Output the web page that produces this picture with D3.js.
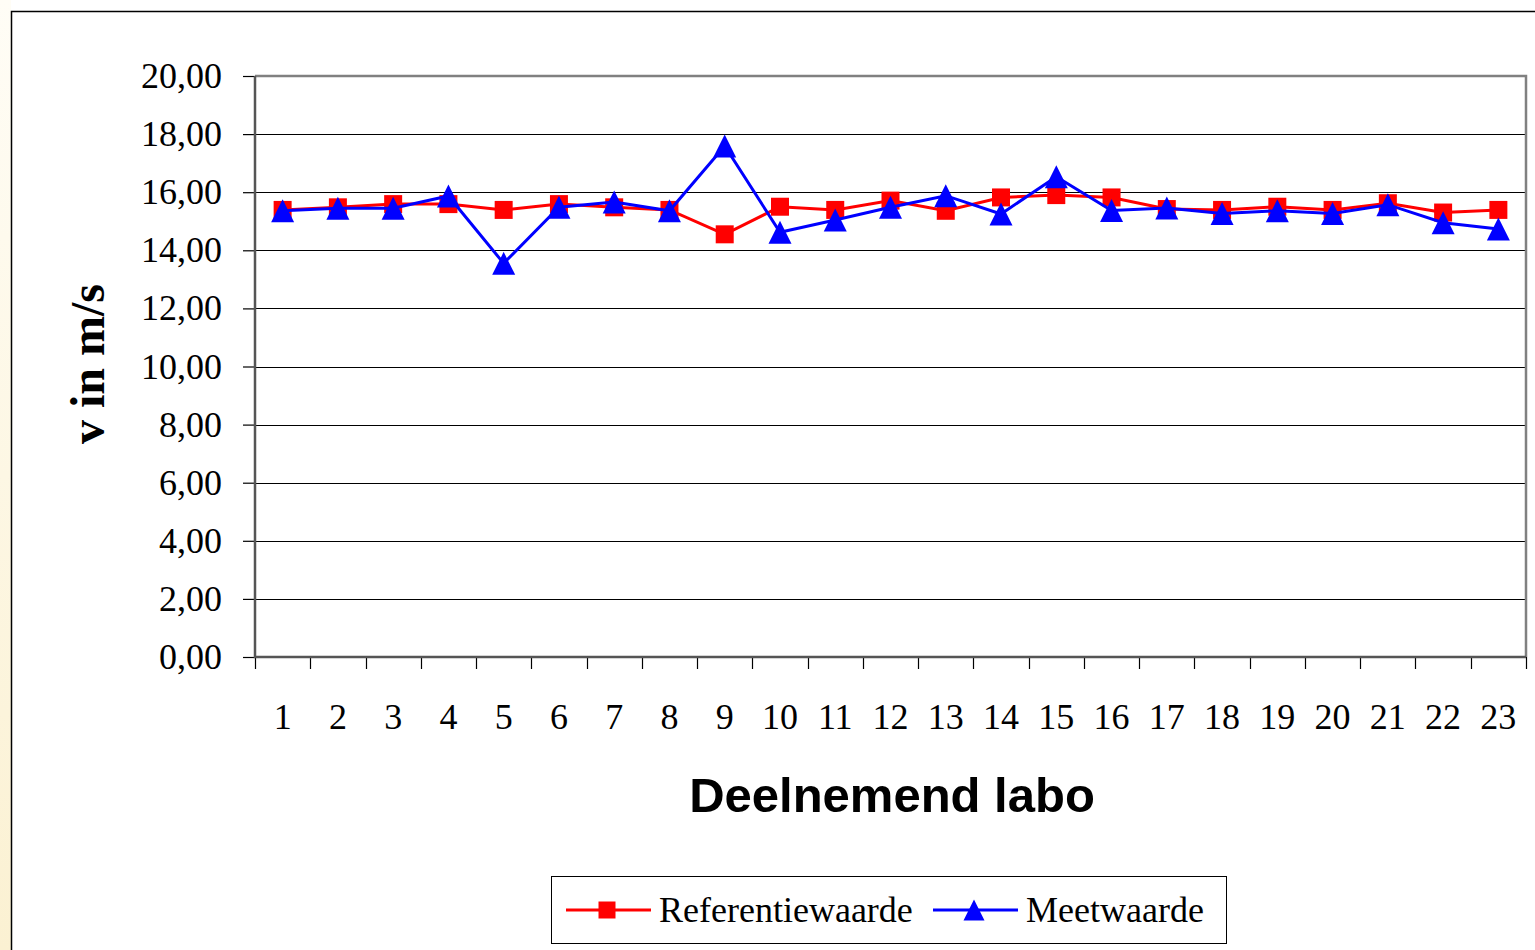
<!DOCTYPE html>
<html>
<head>
<meta charset="utf-8">
<script src="https://cdn.jsdelivr.net/npm/d3@7"></script>
<style>
  html, body { margin: 0; padding: 0; background: #fff; }
  svg { display: block; }
</style>
</head>
<body>
<script>
'use strict';

// Chart data
var labs = ['1', '2', '3', '4', '5', '6', '7', '8', '9', '10', '11', '12',
  '13', '14', '15', '16', '17', '18', '19', '20', '21', '22', '23'];
var referentiewaarde = [15.39, 15.48, 15.59, 15.59, 15.39, 15.59, 15.48, 15.39, 14.55, 15.50, 15.39, 15.71,
  15.36, 15.82, 15.90, 15.82, 15.42, 15.39, 15.50, 15.39, 15.62, 15.30, 15.39];
var meetwaarde = [15.36, 15.45, 15.45, 15.87, 13.55, 15.48, 15.66, 15.36, 17.59, 14.62, 15.04, 15.48,
  15.88, 15.25, 16.53, 15.37, 15.46, 15.27, 15.36, 15.27, 15.57, 14.95, 14.73];
var yTicks = [0, 2, 4, 6, 8, 10, 12, 14, 16, 18, 20];
var seriesNames = ['Referentiewaarde', 'Meetwaarde'];

var width = 1535, height = 950;
var plot = { left: 255, right: 1526, top: 76, bottom: 657 };
var serif = '"Liberation Serif", "Times New Roman", serif';
var sans = '"Liberation Sans", Arial, sans-serif';

var svg = d3.select('body').append('svg')
  .attr('width', width)
  .attr('height', height);

// Page background: faint cream strip at the left, then the chart frame
var grad = svg.append('defs').append('linearGradient')
  .attr('id', 'cream').attr('x1', 0).attr('y1', 0).attr('x2', 0).attr('y2', 1);
grad.append('stop').attr('offset', '0%').attr('stop-color', '#fffdf6');
grad.append('stop').attr('offset', '100%').attr('stop-color', '#fbf1d2');
svg.append('rect').attr('x', 0).attr('y', 0).attr('width', 11).attr('height', height)
  .attr('fill', 'url(#cream)');
svg.append('rect')
  .attr('x', 11.5).attr('y', 11.5)
  .attr('width', width + 20).attr('height', height + 20)
  .attr('fill', '#fff').attr('stroke', '#000').attr('stroke-width', 1.5);

// Scales
var x = d3.scaleBand().domain(labs).range([plot.left, plot.right]);
var y = d3.scaleLinear().domain([0, 20]).range([plot.bottom, plot.top]);
function cx(d, i) { return x(labs[i]) + x.bandwidth() / 2; }

// Gridlines
svg.append('g').selectAll('line').data(yTicks.slice(1, -1)).enter().append('line')
  .attr('x1', plot.left).attr('x2', plot.right)
  .attr('y1', function(d) { return Math.round(y(d)) + 0.5; })
  .attr('y2', function(d) { return Math.round(y(d)) + 0.5; })
  .attr('stroke', '#000').attr('stroke-width', 1);

// Plot frame (top and right gray)
svg.append('path')
  .attr('d', 'M' + plot.left + ',' + plot.top + 'H' + plot.right + 'V' + plot.bottom)
  .attr('fill', 'none').attr('stroke', '#808080').attr('stroke-width', 2.5);

// Y axis
var yAxis = d3.axisLeft(y)
  .tickValues(yTicks)
  .tickSize(12)
  .tickPadding(21)
  .tickFormat(function(d) { return d.toFixed(2).replace('.', ','); });
var gy = svg.append('g').attr('transform', 'translate(' + plot.left + ',0)').call(yAxis);
gy.select('.domain').remove();
gy.selectAll('.tick line').attr('stroke', '#000').attr('stroke-width', 1.2);
gy.selectAll('.tick text')
  .attr('font-family', serif).attr('font-size', 36).attr('fill', '#000');

// X axis labels
var xAxis = d3.axisBottom(x).tickSize(0).tickPadding(46);
var gx = svg.append('g').attr('transform', 'translate(0,' + plot.bottom + ')').call(xAxis);
gx.select('.domain').remove();
gx.selectAll('.tick text')
  .attr('font-family', serif).attr('font-size', 36).attr('fill', '#000');

// X ticks at category boundaries
var edges = labs.map(function(l) { return x(l); }).concat([x.range()[1]]);
svg.append('g').selectAll('line').data(edges).enter().append('line')
  .attr('x1', function(d) { return Math.round(d) + 0.5; })
  .attr('x2', function(d) { return Math.round(d) + 0.5; })
  .attr('y1', plot.bottom).attr('y2', plot.bottom + 12)
  .attr('stroke', '#000').attr('stroke-width', 1.2);

// Axis lines
svg.append('path')
  .attr('d', 'M' + plot.left + ',' + plot.top + 'V' + plot.bottom + 'H' + plot.right)
  .attr('fill', 'none').attr('stroke', '#555').attr('stroke-width', 2.5);

// Axis titles
svg.append('text')
  .attr('transform', 'translate(104,364) rotate(-90)')
  .attr('text-anchor', 'middle')
  .attr('font-family', serif).attr('font-weight', 'bold').attr('font-size', 48)
  .text('v in m/s');
svg.append('text')
  .attr('x', 892).attr('y', 812)
  .attr('text-anchor', 'middle')
  .attr('font-family', sans).attr('font-weight', 'bold').attr('font-size', 49)
  .text('Deelnemend labo');

// Triangle marker centred on its bounding box
var boxTriangle = {
  draw: function(ctx, size) {
    var h = Math.sqrt(size) / 2;
    ctx.moveTo(0, -h);
    ctx.lineTo(h, h);
    ctx.lineTo(-h, h);
    ctx.closePath();
  }
};

var line = d3.line().x(cx).y(function(d) { return y(d); });

var series = [
  { name: seriesNames[0], values: referentiewaarde, color: '#ff0000', symbol: d3.symbolSquare, size: 18 * 18 },
  { name: seriesNames[1], values: meetwaarde, color: '#0000ff', symbol: boxTriangle, size: 23 * 23 }
];

series.forEach(function(s) {
  var g = svg.append('g');
  g.append('path')
    .attr('d', line(s.values))
    .attr('fill', 'none').attr('stroke', s.color).attr('stroke-width', 3);
  g.selectAll('path.marker').data(s.values).enter().append('path')
    .attr('class', 'marker')
    .attr('d', d3.symbol().type(s.symbol).size(s.size))
    .attr('transform', function(d, i) { return 'translate(' + cx(d, i) + ',' + y(d) + ')'; })
    .attr('fill', s.color);
});

// Legend
var legend = svg.append('g');
legend.append('rect')
  .attr('x', 551.5).attr('y', 876.5).attr('width', 675).attr('height', 67)
  .attr('fill', '#fff').attr('stroke', '#000').attr('stroke-width', 1);
var legendX = [566, 933];
series.forEach(function(s, i) {
  var lx = legendX[i];
  legend.append('line')
    .attr('x1', lx).attr('x2', lx + 85).attr('y1', 910).attr('y2', 910)
    .attr('stroke', s.color).attr('stroke-width', 3);
  legend.append('path')
    .attr('d', d3.symbol().type(s.symbol).size(i === 0 ? 17 * 17 : 21 * 21))
    .attr('transform', 'translate(' + (lx + 41) + ',910)')
    .attr('fill', s.color);
  legend.append('text')
    .attr('x', lx + 93).attr('y', 922)
    .attr('font-family', serif).attr('font-size', 36)
    .text(s.name);
});
</script>
</body>
</html>
